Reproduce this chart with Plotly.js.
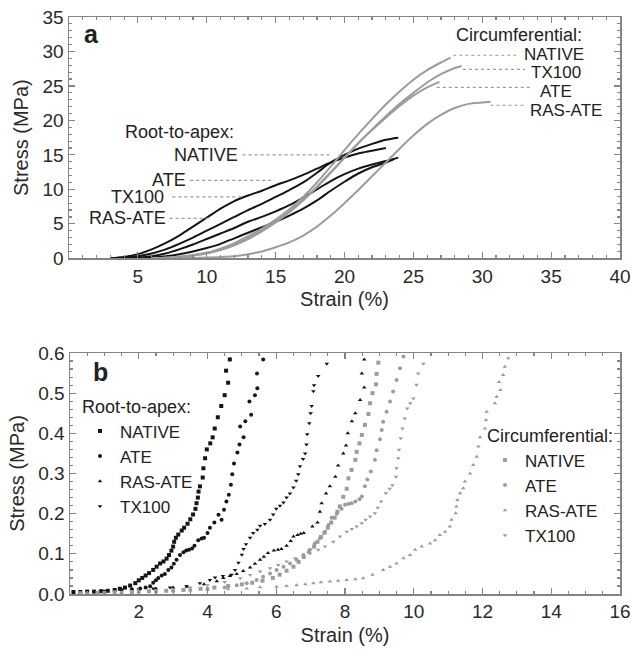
<!DOCTYPE html>
<html>
<head>
<meta charset="utf-8">
<script src="https://cdn.plot.ly/plotly-3.0.1.min.js"></script>
<style>html,body{margin:0;padding:0;background:#fff}#chart{width:631px;height:649px}</style>
</head>
<body>
<div id="chart"></div>
<script>
// ---------- Panel a: stress-strain curves (Strain %, Stress MPa) ----------
const rootLabels = ['NATIVE', 'ATE', 'TX100', 'RAS-ATE'];
const circLabels = ['NATIVE', 'TX100', 'ATE', 'RAS-ATE'];

const aRoot1 = [[3,0],[4,0.2],[5,0.6],[6,1.3],[7,2.2],[8,3.3],[9,4.6],[10,5.9],[11,7.2],[12,8.3],[13,9.1],[14,9.8],[15,10.6],[16,11.3],[17,12.1],[18,13.0],[19,13.9],[20,14.6],[21,15.2],[22,15.6],[23,16.0]];
const aRoot2 = [[3,0],[4,0.1],[5,0.3],[6,0.7],[7,1.3],[8,2.1],[9,3.0],[10,4.0],[11,5.0],[12,6.0],[13,7.0],[14,7.9],[15,8.9],[16,9.9],[17,11.0],[18,12.4],[19,13.9],[20,15.0],[21,15.9],[22,16.6],[23,17.2],[23.9,17.5]];
const aRoot3 = [[4,0],[5,0.1],[6,0.3],[7,0.7],[8,1.3],[9,2.0],[10,2.8],[11,3.6],[12,4.4],[13,5.3],[14,6.0],[15,6.8],[16,7.7],[17,8.8],[18,10.0],[19,11.2],[20,12.2],[21,13.0],[22,13.6],[23,14.1],[23.9,14.6]];
const aRoot4 = [[5,0],[6,0.1],[7,0.3],[8,0.6],[9,1.0],[10,1.5],[11,2.1],[12,2.9],[13,3.7],[14,4.5],[15,5.3],[16,6.2],[17,7.2],[18,8.4],[19,9.8],[20,11.1],[21,12.3],[22,13.2],[23,13.9],[23.6,14.4]];

const aCircNative = [[6,0],[8,0.2],[10,0.8],[11,1.4],[12,2.2],[13,3.2],[14,4.3],[15,5.6],[16,7.1],[17,8.9],[18,11.0],[19,13.3],[20,15.7],[21,18.0],[22,20.2],[23,22.3],[24,24.2],[25,25.9],[26,27.3],[27,28.4],[27.7,29.1]];
const aCircTx100 = [[6,0],[8,0.2],[10,0.7],[11,1.2],[12,1.9],[13,2.8],[14,3.9],[15,5.2],[16,6.7],[17,8.4],[18,10.3],[19,12.4],[20,14.6],[21,16.7],[22,18.7],[23,20.6],[24,22.4],[25,24.0],[26,25.5],[27,26.7],[28,27.6],[28.5,27.9]];
const aCircAte = [[6,0],[8,0.2],[10,0.8],[11,1.3],[12,2.0],[13,2.9],[14,4.0],[15,5.3],[16,6.8],[17,8.5],[18,10.4],[19,12.5],[20,14.6],[21,16.7],[22,18.6],[23,20.4],[24,22.1],[25,23.6],[26,24.8],[26.9,25.6]];
const aCircRas = [[8,0],[10,0.1],[12,0.3],[13,0.6],[14,1.0],[15,1.6],[16,2.3],[17,3.3],[18,4.6],[19,6.2],[20,8.0],[21,9.9],[22,11.9],[23,13.9],[24,15.9],[25,17.8],[26,19.5],[27,20.8],[28,21.8],[29,22.4],[30,22.6],[30.6,22.7]];

// ---------- Panel b: initial region (Strain %, Stress MPa) ----------
const bRootNative = [[0.1,0.005],[0.3,0.005],[0.5,0.006],[0.7,0.006],[0.9,0.007],[1.1,0.008],[1.3,0.010],[1.45,0.013],[1.6,0.016],[1.75,0.021],[1.9,0.027],[2.0,0.034],[2.1,0.040],[2.2,0.046],[2.3,0.052],[2.42,0.060],[2.52,0.068],[2.62,0.076],[2.72,0.081],[2.81,0.088],[2.88,0.097],[2.95,0.108],[3.0,0.118],[3.03,0.130],[3.08,0.140],[3.15,0.148],[3.25,0.158],[3.32,0.165],[3.42,0.175],[3.5,0.186],[3.58,0.198],[3.65,0.212],[3.68,0.226],[3.72,0.240],[3.74,0.255],[3.78,0.268],[3.86,0.290],[3.88,0.313],[3.93,0.338],[3.98,0.360],[4.08,0.375],[4.15,0.390],[4.21,0.412],[4.3,0.440],[4.4,0.468],[4.5,0.495],[4.6,0.526],[4.54,0.556],[4.65,0.584]];
const bRootAte = [[1.5,0.010],[1.8,0.012],[2.04,0.014],[2.2,0.016],[2.33,0.019],[2.42,0.028],[2.5,0.034],[2.57,0.040],[2.67,0.046],[2.76,0.050],[2.86,0.060],[2.95,0.066],[3.02,0.075],[3.1,0.085],[3.2,0.097],[3.3,0.104],[3.38,0.108],[3.46,0.110],[3.55,0.113],[3.62,0.120],[3.73,0.134],[3.83,0.138],[3.9,0.140],[4.0,0.152],[4.07,0.165],[4.2,0.178],[4.32,0.197],[4.41,0.185],[4.48,0.210],[4.55,0.230],[4.62,0.247],[4.68,0.272],[4.72,0.298],[4.77,0.325],[4.87,0.352],[4.93,0.372],[5.05,0.390],[4.95,0.417],[5.1,0.430],[5.27,0.446],[5.22,0.479],[5.38,0.495],[5.45,0.512],[5.44,0.549],[5.62,0.584]];
const bRootRas = [[2.5,0.014],[3.0,0.016],[3.4,0.018],[3.9,0.024],[4.27,0.032],[4.46,0.040],[4.65,0.045],[4.85,0.050],[5.04,0.057],[5.24,0.066],[5.38,0.075],[5.53,0.085],[5.64,0.093],[5.76,0.102],[5.93,0.108],[6.05,0.110],[6.15,0.112],[6.3,0.120],[6.42,0.132],[6.5,0.143],[6.62,0.147],[6.71,0.150],[6.8,0.152],[7.05,0.168],[7.2,0.178],[7.27,0.205],[7.32,0.226],[7.45,0.250],[7.56,0.268],[7.72,0.292],[7.8,0.320],[7.95,0.350],[8.03,0.370],[8.08,0.400],[8.2,0.430],[8.3,0.450],[8.44,0.483],[8.56,0.514],[8.49,0.549],[8.56,0.584]];
const bRootTx100 = [[1.0,0.008],[1.5,0.010],[2.0,0.012],[2.42,0.014],[2.91,0.016],[3.39,0.020],[3.78,0.027],[4.07,0.035],[4.22,0.041],[4.45,0.045],[4.7,0.048],[4.8,0.060],[4.9,0.078],[5.0,0.098],[5.05,0.112],[5.12,0.124],[5.24,0.140],[5.33,0.152],[5.45,0.160],[5.53,0.170],[5.67,0.174],[5.82,0.185],[5.91,0.198],[6.0,0.212],[6.11,0.220],[6.21,0.228],[6.3,0.240],[6.4,0.250],[6.5,0.265],[6.58,0.282],[6.64,0.298],[6.69,0.318],[6.78,0.336],[6.84,0.350],[6.88,0.372],[6.9,0.398],[6.96,0.425],[7.0,0.450],[7.03,0.468],[7.08,0.505],[7.1,0.520],[7.22,0.543],[7.47,0.573]];

const bCircNative = [[0.3,0.002],[0.8,0.003],[1.3,0.004],[1.8,0.005],[2.3,0.007],[2.8,0.008],[3.3,0.010],[3.8,0.013],[4.2,0.016],[4.6,0.020],[5.0,0.024],[5.3,0.028],[5.6,0.033],[5.9,0.040],[6.1,0.048],[6.3,0.058],[6.5,0.068],[6.65,0.080],[6.8,0.092],[6.95,0.105],[7.1,0.118],[7.2,0.130],[7.3,0.142],[7.4,0.152],[7.5,0.165],[7.6,0.178],[7.7,0.190],[7.78,0.205],[7.85,0.218],[7.95,0.242],[8.05,0.262],[8.1,0.288],[8.19,0.309],[8.3,0.334],[8.34,0.354],[8.42,0.375],[8.49,0.396],[8.58,0.421],[8.68,0.448],[8.73,0.475],[8.8,0.500],[8.9,0.522],[8.92,0.548],[8.97,0.576]];
const bCircAte = [[0.5,0.002],[1.0,0.003],[1.5,0.004],[2.0,0.005],[2.5,0.006],[3.0,0.008],[3.5,0.010],[4.0,0.013],[4.5,0.016],[4.85,0.022],[5.14,0.027],[5.43,0.035],[5.62,0.043],[5.82,0.051],[6.01,0.060],[6.21,0.068],[6.4,0.076],[6.59,0.085],[6.79,0.097],[6.98,0.110],[7.12,0.126],[7.27,0.139],[7.42,0.155],[7.52,0.172],[7.61,0.190],[7.76,0.200],[7.9,0.212],[8.0,0.222],[8.1,0.224],[8.19,0.226],[8.3,0.230],[8.42,0.236],[8.49,0.243],[8.58,0.268],[8.65,0.285],[8.75,0.305],[8.87,0.334],[8.92,0.358],[9.02,0.385],[9.07,0.408],[9.11,0.429],[9.21,0.454],[9.31,0.479],[9.4,0.504],[9.5,0.533],[9.6,0.562],[9.7,0.591]];
const bCircRas = [[1.0,0.003],[2.0,0.005],[3.0,0.007],[4.0,0.010],[4.6,0.012],[5.14,0.014],[5.53,0.017],[6.01,0.018],[6.3,0.020],[6.59,0.022],[6.85,0.024],[7.08,0.027],[7.3,0.029],[7.56,0.031],[7.8,0.033],[8.05,0.035],[8.3,0.037],[8.53,0.039],[8.8,0.048],[9.11,0.060],[9.31,0.068],[9.5,0.076],[9.7,0.089],[9.89,0.097],[10.04,0.110],[10.23,0.118],[10.47,0.126],[10.62,0.134],[10.76,0.147],[10.91,0.155],[11.05,0.168],[11.1,0.185],[11.22,0.201],[11.24,0.218],[11.27,0.234],[11.35,0.251],[11.44,0.263],[11.49,0.280],[11.64,0.300],[11.73,0.321],[11.83,0.342],[11.88,0.367],[11.93,0.390],[12.07,0.412],[12.1,0.433],[12.12,0.454],[12.36,0.475],[12.41,0.491],[12.52,0.508],[12.48,0.528],[12.6,0.545],[12.65,0.566],[12.75,0.587]];
const bCircTx100 = [[1.0,0.004],[2.0,0.007],[3.0,0.012],[3.5,0.016],[4.0,0.022],[4.5,0.030],[4.95,0.039],[5.24,0.047],[5.53,0.056],[5.82,0.064],[6.06,0.072],[6.3,0.081],[6.55,0.089],[6.79,0.093],[6.98,0.101],[7.22,0.110],[7.42,0.118],[7.66,0.130],[7.85,0.143],[8.05,0.155],[8.2,0.162],[8.34,0.168],[8.49,0.176],[8.6,0.185],[8.73,0.193],[8.87,0.201],[8.95,0.215],[9.05,0.230],[9.19,0.251],[9.3,0.262],[9.38,0.271],[9.48,0.292],[9.5,0.313],[9.55,0.338],[9.57,0.359],[9.62,0.388],[9.67,0.412],[9.74,0.437],[9.81,0.462],[9.9,0.475],[9.99,0.487],[10.08,0.521],[10.13,0.549],[10.28,0.573]];

// ---------- styles ----------
const BLACK = '#151515', GRAY = '#9c9c9c', AXC = '#858585';
const FONT = 'Liberation Sans, Arial, sans-serif';
const xs = p => p.map(d => d[0]);
const ys = p => p.map(d => d[1]);

const traces = [];
[aRoot1, aRoot2, aRoot3, aRoot4].forEach(s => traces.push({
  x: xs(s), y: ys(s), xaxis: 'x', yaxis: 'y', mode: 'lines', line: {color: BLACK, width: 2, shape: 'spline', smoothing: 0.8}, showlegend: false, hoverinfo: 'skip'}));
[aCircNative, aCircTx100, aCircAte, aCircRas].forEach(s => traces.push({
  x: xs(s), y: ys(s), xaxis: 'x', yaxis: 'y', mode: 'lines', line: {color: GRAY, width: 2, shape: 'spline', smoothing: 0.8}, showlegend: false, hoverinfo: 'skip'}));

const bRoot = [[bRootNative, 'NATIVE', 'square'], [bRootAte, 'ATE', 'circle'], [bRootRas, 'RAS-ATE', 'triangle-up'], [bRootTx100, 'TX100', 'triangle-down']];
const bCirc = [[bCircNative, 'NATIVE', 'square'], [bCircAte, 'ATE', 'circle'], [bCircRas, 'RAS-ATE', 'triangle-up'], [bCircTx100, 'TX100', 'triangle-down']];
bRoot.forEach(([s, n, sym]) => traces.push({x: xs(s), y: ys(s), xaxis: 'x2', yaxis: 'y2', mode: 'markers', name: n,
  marker: {color: BLACK, size: 4, symbol: sym}, legend: 'legend'}));
bCirc.forEach(([s, n, sym]) => traces.push({x: xs(s), y: ys(s), xaxis: 'x2', yaxis: 'y2', mode: 'markers', name: n,
  marker: {color: GRAY, size: 4, symbol: sym}, legend: 'legend2'}));

function axis(extra) {
  return Object.assign({
    showline: true, linecolor: AXC, linewidth: 1.5, mirror: 'ticks', ticks: 'inside', ticklen: 6, tickwidth: 1.2,
    tickcolor: AXC, showgrid: false, zeroline: false, automargin: false,
    tickfont: {family: FONT, size: 19, color: '#2a2a2a'},
    minor: {ticks: 'inside', ticklen: 3, tickcolor: AXC, tickwidth: 1}
  }, extra);
}
const titleFont = {family: FONT, size: 20, color: '#2a2a2a'};

// label / leader-line positions (panel a)
const txt = (text, x, y, xanchor, size, bold) => ({text: bold ? '<b>' + text + '</b>' : text, x, y, xref: 'x', yref: 'y',
  xanchor, yanchor: 'middle', showarrow: false, borderpad: 0, font: {family: FONT, size: size || 18, color: '#222'}});
const annotations = [
  txt('a', 1.0, 32.6, 'left', 25, true),
  txt('Root-to-apex:', 4.0, 18.3, 'left'),
  txt(rootLabels[0], 12.35, 15.0, 'right'),
  txt(rootLabels[1], 8.6, 11.3, 'right'),
  txt(rootLabels[2], 7.0, 8.9, 'right'),
  txt(rootLabels[3], 7.1, 5.8, 'right'),
  txt('Circumferential:', 28.0, 32.4, 'left'),
  txt(circLabels[0], 32.95, 29.6, 'left', 17),
  txt(circLabels[1], 33.45, 26.9, 'left', 17),
  txt(circLabels[2], 34.1, 24.2, 'left', 17),
  txt(circLabels[3], 33.4, 21.4, 'left', 17),
  {text: '<b>b</b>', x: 0.6, y: 0.553, xref: 'x2', yref: 'y2', xanchor: 'left', yanchor: 'middle', showarrow: false,
   font: {family: FONT, size: 25, color: '#222'}}
];
const leaders = [[12.6, 18.9, 15.0], [8.8, 14.9, 11.3], [7.5, 12.5, 8.9], [7.3, 10.2, 5.8],
                 [27.9, 32.7, 29.45], [28.6, 33.1, 27.4], [26.7, 33.5, 24.8], [30.6, 33.2, 22.2]];
const shapes = leaders.map(([x0, x1, y]) => ({type: 'line', xref: 'x', yref: 'y', x0, x1, y0: y, y1: y,
  line: {color: '#9a9a9a', width: 1.2, dash: 'dot'}}));

const legFont = {family: FONT, size: 17, color: '#222'};
const layout = {
  width: 631, height: 649, margin: {l: 0, r: 0, t: 0, b: 0}, paper_bgcolor: '#fff', plot_bgcolor: '#fff',
  font: {family: FONT},
  xaxis: axis({domain: [69/631, 620/631], anchor: 'y', range: [0, 40], tickvals: [5,10,15,20,25,30,35,40],
    minor: {ticks: 'inside', ticklen: 3, tickcolor: AXC, dtick: 1, tick0: 0},
    title: {text: 'Strain (%)', font: titleFont, standoff: 6}}),
  yaxis: axis({domain: [1 - 258.3/649, 1 - 17/649], anchor: 'x', range: [0, 35], dtick: 5,
    minor: {ticks: 'inside', ticklen: 3, tickcolor: AXC, dtick: 1},
    title: {text: 'Stress (MPa)', font: titleFont, standoff: 8}}),
  xaxis2: axis({domain: [70/631, 620/631], anchor: 'y2', range: [0, 16], tickvals: [2,4,6,8,10,12,14,16],
    minor: {ticks: 'inside', ticklen: 3, tickcolor: AXC, dtick: 0.5, tick0: 0},
    title: {text: 'Strain (%)', font: titleFont, standoff: 6}}),
  yaxis2: axis({domain: [1 - 594/649, 1 - 353/649], anchor: 'x2', range: [0, 0.6], dtick: 0.1, tickformat: '.1f',
    minor: {ticks: 'inside', ticklen: 3, tickcolor: AXC, dtick: 0.02},
    title: {text: 'Stress (MPa)', font: titleFont, standoff: 8}}),
  legend: {x: 80/631, xanchor: 'left', y: 1 - 390/649, yanchor: 'top', bgcolor: 'rgba(0,0,0,0)', borderwidth: 0,
    font: legFont, title: {text: 'Root-to-apex:', font: {family: FONT, size: 18, color: '#222'}},
    tracegroupgap: 0, itemclick: false},
  legend2: {x: 485/631, xanchor: 'left', y: 1 - 419/649, yanchor: 'top', bgcolor: 'rgba(0,0,0,0)', borderwidth: 0,
    font: legFont, title: {text: 'Circumferential:', font: {family: FONT, size: 18, color: '#222'}},
    tracegroupgap: 0, itemclick: false},
  annotations, shapes, showlegend: true
};

Plotly.newPlot('chart', traces, layout, {staticPlot: true, displayModeBar: false});
</script>
</body>
</html>
